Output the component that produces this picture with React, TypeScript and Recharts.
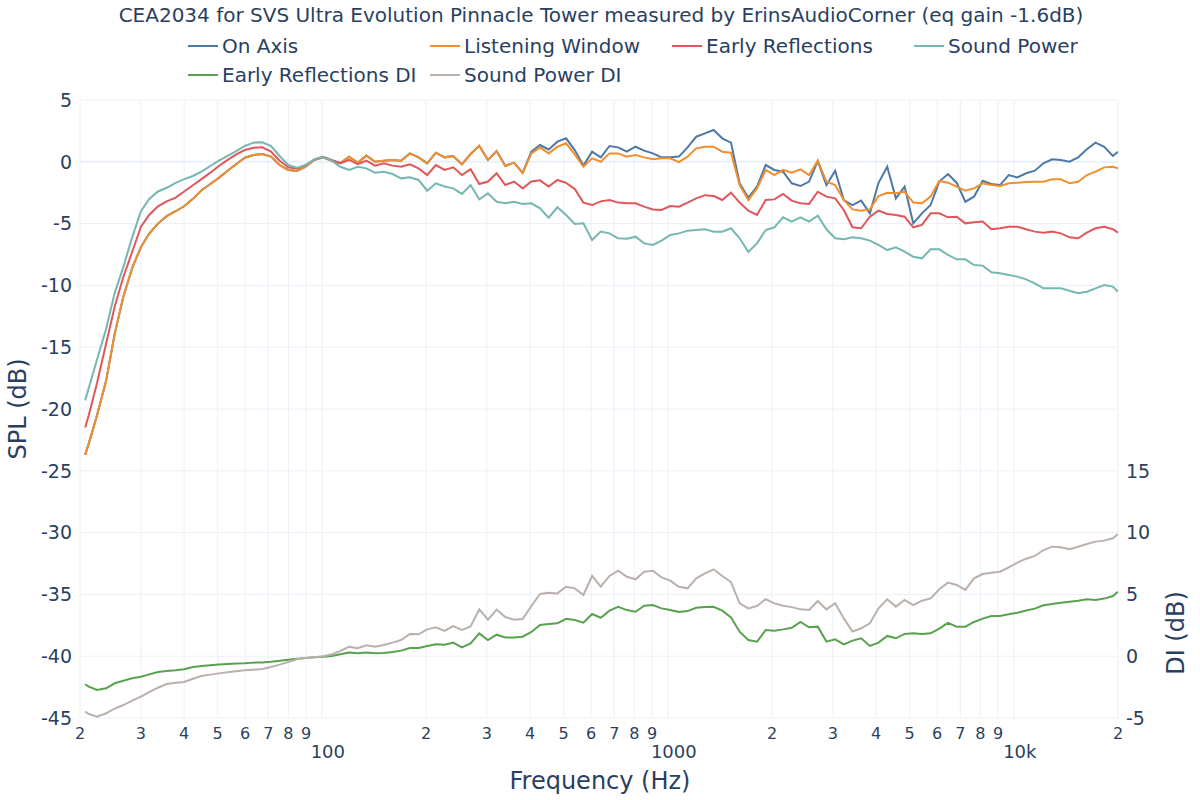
import { LineChart, Line, XAxis, YAxis, CartesianGrid, ReferenceLine } from 'recharts'

const FONT = '"DejaVu Sans", Verdana, sans-serif'
const INK = '#2a3f5f'
const GRID = '#ebf0f8'

// frequency grid (Hz), roughly 1/12 octave
const FREQ = [
  20.7, 21.2, 22.4, 23.8, 25.2, 26.7, 28.3, 30, 31.7, 33.6, 35.6, 37.8,
  40, 42.4, 44.9, 47.6, 50.4, 53.4, 56.6, 59.9, 63.5, 67.3, 71.3, 75.5,
  80, 84.8, 89.8, 95.1, 100.8, 106.8, 113.1, 119.9, 127, 134.5, 142.5, 151,
  160, 169.5, 179.6, 190.3, 201.6, 213.6, 226.3, 239.7, 254, 269.1, 285.1, 302,
  320, 339, 359.2, 380.6, 403.2, 427.2, 452.5, 479.5, 508, 538.2, 570.2, 604.1,
  640, 678.1, 718.4, 761.1, 806.4, 854.3, 905.1, 958.9, 1015.9, 1076.3, 1140.3, 1208.1,
  1280, 1356.1, 1436.7, 1522.2, 1612.7, 1708.6, 1810.2, 1917.9, 2031.9, 2152.7, 2280.7, 2416.3,
  2560, 2712.2, 2873.5, 3044.4, 3225.4, 3417.2, 3620.4, 3835.7, 4063.8, 4305.4, 4561.4, 4832.6,
  5120, 5424.5, 5746.9, 6088.7, 6450.8, 6834.4, 7240.8, 7671.4, 8127.6, 8610.9, 9122.9, 9665.4,
  10240, 10849, 11494, 12177, 12902, 13669, 14482, 15343, 16255, 17222, 18246, 19331,
  20000,
]

const ON_AXIS = [
  -23.7, -22.8, -20.5, -17.7, -13.9, -10.9, -8.6, -6.9, -5.8, -5.0, -4.4, -4.0,
  -3.6, -3.0, -2.3, -1.8, -1.3, -0.72, -0.18, 0.33, 0.55, 0.63, 0.42, -0.26,
  -0.66, -0.74, -0.4, 0.15, 0.36, 0.09, -0.1, 0.42, -0.07, 0.5, 0.0, 0.09,
  0.15, 0.09, 0.68, 0.36, -0.12, 0.74, 0.36, 0.47, -0.2, 0.63, 1.3, 0.15,
  0.87, -0.34, -0.07, -0.9, 0.82, 1.36, 1.0, 1.63, 1.9, 0.95, -0.3, 0.82,
  0.36, 1.28, 1.17, 0.82, 1.22, 0.9, 0.68, 0.36, 0.36, 0.42, 1.17, 2.03,
  2.3, 2.57, 1.9, 1.55, -1.74, -2.9, -2.0, -0.26, -0.66, -0.8, -1.74, -1.96,
  -1.6, 0.06, -1.9, -0.72, -3.1, -3.5, -3.14, -4.17, -1.7, -0.4, -2.96, -2.01,
  -4.98, -4.17, -3.5, -1.6, -0.99, -1.69, -3.23, -2.82, -1.53, -1.8, -1.88, -1.07,
  -1.26, -0.93, -0.72, -0.12, 0.2, 0.15, 0.01, 0.36, 1.01, 1.55, 1.22, 0.47,
  0.82,
]

const LISTENING = [
  -23.7, -22.8, -20.5, -17.7, -13.9, -10.9, -8.6, -6.9, -5.8, -5.0, -4.4, -4.0,
  -3.6, -3.0, -2.3, -1.8, -1.3, -0.72, -0.18, 0.33, 0.55, 0.63, 0.42, -0.26,
  -0.66, -0.74, -0.4, 0.15, 0.36, 0.09, -0.1, 0.42, -0.07, 0.5, 0.0, 0.09,
  0.15, 0.09, 0.68, 0.36, -0.12, 0.74, 0.36, 0.47, -0.2, 0.63, 1.3, 0.15,
  0.87, -0.34, -0.07, -0.9, 0.68, 1.17, 0.68, 1.22, 1.5, 0.6, -0.4, 0.28,
  0.0, 0.68, 0.68, 0.42, 0.55, 0.36, 0.2, 0.28, 0.28, -0.02, 0.42, 1.09,
  1.22, 1.22, 0.82, 0.74, -1.88, -3.1, -2.15, -0.66, -1.07, -0.66, -0.88, -0.61,
  -1.07, 0.09, -1.61, -1.88, -3.09, -3.85, -3.95, -3.85, -2.77, -2.5, -2.55, -2.42,
  -3.3, -3.36, -2.82, -1.55, -1.69, -2.01, -2.34, -2.15, -1.74, -1.88, -1.96, -1.74,
  -1.69, -1.63, -1.61, -1.61, -1.42, -1.42, -1.74, -1.61, -1.07, -0.8, -0.45, -0.4,
  -0.53,
]

const EARLY_REFL = [
  -21.5, -20.5, -17.9, -14.7, -11.7, -9.3, -7.3, -5.25, -4.3, -3.6, -3.2, -2.9,
  -2.4, -1.9, -1.4, -0.88, -0.34, 0.15, 0.6, 0.95, 1.14, 1.17, 0.82, 0.09,
  -0.45, -0.55, -0.26, 0.2, 0.4, 0.15, -0.12, 0.15, -0.2, 0.1, -0.31, -0.12,
  -0.31, -0.4, -0.2, -0.53, -1.07, -0.26, -0.66, -0.45, -1.07, -0.6, -1.8, -1.6,
  -0.93, -1.88, -1.6, -2.15, -1.6, -1.5, -2.0, -1.47, -1.7, -2.2, -3.3, -3.5,
  -3.2, -3.09, -3.3, -3.36, -3.36, -3.63, -3.85, -3.9, -3.58, -3.63, -3.3, -2.96,
  -2.7, -2.77, -3.09, -2.5, -3.3, -3.95, -4.3, -3.09, -3.04, -2.6, -3.14, -3.36,
  -3.41, -2.42, -2.82, -2.96, -3.9, -5.3, -5.38, -4.44, -3.95, -4.22, -4.3, -4.44,
  -5.3, -5.11, -4.17, -4.17, -4.49, -4.44, -4.98, -4.9, -4.84, -5.46, -5.38, -5.25,
  -5.25, -5.46, -5.65, -5.73, -5.65, -5.79, -6.11, -6.19, -5.73, -5.38, -5.25, -5.46,
  -5.73,
]

const SOUND_POWER = [
  -19.3, -18.3, -16.0, -13.5, -10.6, -8.5, -6.1, -4.0, -3.0, -2.4, -2.1, -1.7,
  -1.4, -1.15, -0.8, -0.34, 0.09, 0.47, 0.87, 1.28, 1.55, 1.58, 1.28, 0.47,
  -0.26, -0.47, -0.26, 0.2, 0.4, 0.1, -0.4, -0.66, -0.4, -0.53, -0.88, -0.8,
  -0.99, -1.34, -1.26, -1.47, -2.34, -1.74, -2.0, -2.15, -2.6, -1.88, -3.04, -2.55,
  -3.23, -3.36, -3.23, -3.41, -3.36, -3.77, -4.52, -3.68, -4.3, -5.03, -4.98, -6.33,
  -5.65, -5.79, -6.19, -6.22, -6.06, -6.6, -6.73, -6.38, -5.92, -5.79, -5.57, -5.52,
  -5.46, -5.65, -5.65, -5.38, -6.19, -7.3, -6.6, -5.52, -5.3, -4.49, -4.84, -4.49,
  -4.84, -4.36, -5.46, -6.19, -6.27, -6.11, -6.19, -6.38, -6.73, -7.14, -6.92, -7.27,
  -7.68, -7.81, -7.08, -7.08, -7.54, -7.89, -7.89, -8.35, -8.4, -8.94, -9.02, -9.16,
  -9.29, -9.51, -9.83, -10.24, -10.24, -10.24, -10.43, -10.64, -10.51, -10.24, -9.97, -10.1,
  -10.51,
]

const ER_DI = [
  -2.27, -2.46, -2.73, -2.6, -2.19, -1.98, -1.79, -1.66, -1.47, -1.28, -1.2, -1.14,
  -1.06, -0.87, -0.79, -0.74, -0.68, -0.63, -0.6, -0.58, -0.52, -0.5, -0.44, -0.36,
  -0.28, -0.2, -0.15, -0.09, -0.04, 0.02, 0.15, 0.29, 0.23, 0.29, 0.23, 0.26,
  0.34, 0.45, 0.66, 0.66, 0.83, 0.96, 0.93, 1.1, 0.72, 1.04, 1.85, 1.31,
  1.74, 1.52, 1.52, 1.58, 1.96, 2.52, 2.6, 2.66, 3.03, 2.93, 2.71, 3.41,
  3.11, 3.68, 4.0, 3.73, 3.6, 4.09, 4.14, 3.87, 3.73, 3.57, 3.65, 3.92,
  3.98, 4.0, 3.68, 3.14, 1.98, 1.31, 1.17, 2.12, 2.06, 2.17, 2.3, 2.78,
  2.34, 2.39, 1.18, 1.37, 0.96, 1.26, 1.45, 0.83, 1.1, 1.64, 1.45, 1.8,
  1.85, 1.8, 1.85, 2.23, 2.69, 2.39, 2.39, 2.77, 3.04, 3.25, 3.25, 3.39,
  3.52, 3.69, 3.85, 4.12, 4.22, 4.33, 4.41, 4.49, 4.6, 4.55, 4.66, 4.87,
  5.22,
]

const SP_DI = [
  -4.49, -4.68, -4.89, -4.62, -4.24, -3.95, -3.6, -3.27, -2.9, -2.55, -2.25, -2.14,
  -2.09, -1.82, -1.6, -1.49, -1.39, -1.3, -1.22, -1.14, -1.09, -1.03, -0.87, -0.68,
  -0.47, -0.25, -0.15, -0.09, -0.01, 0.15, 0.42, 0.77, 0.64, 0.88, 0.77, 0.91,
  1.1, 1.31, 1.8, 1.77, 2.17, 2.34, 2.04, 2.44, 2.12, 2.4, 3.8, 2.95,
  3.77, 3.17, 2.95, 3.0, 4.06, 5.03, 5.14, 5.08, 5.62, 5.49, 4.95, 6.49,
  5.62, 6.49, 6.92, 6.43, 6.22, 6.84, 6.92, 6.38, 6.11, 5.62, 5.49, 6.3,
  6.7, 7.03, 6.49, 6.0, 4.27, 3.87, 4.06, 4.62, 4.27, 4.09, 3.97, 3.79,
  3.74, 4.47, 3.79, 4.28, 3.06, 1.99, 2.26, 2.66, 3.87, 4.6, 4.01, 4.55,
  4.14, 4.49, 4.68, 5.41, 5.95, 5.76, 5.36, 6.3, 6.65, 6.76, 6.84, 7.19,
  7.57, 7.89, 8.11, 8.59, 8.86, 8.81, 8.65, 8.86, 9.08, 9.27, 9.35, 9.54,
  9.89,
]

const X_TICKS = [
  20, 30, 40, 50, 60, 70, 80, 90, 100,
  200, 300, 400, 500, 600, 700, 800, 900, 1000,
  2000, 3000, 4000, 5000, 6000, 7000, 8000, 9000, 10000, 20000,
]
const SPL_TICKS = [-45, -40, -35, -30, -25, -20, -15, -10, -5, 0, 5]
const DI_TICKS = [-5, 0, 5, 10, 15]
const DECADES: Record<number, string> = { 100: '100', 1000: '1000', 10000: '10k' }

const SERIES = [
  { key: 'onAxis', name: 'On Axis', color: '#4e79a7', axis: 'spl' },
  { key: 'lw', name: 'Listening Window', color: '#f28e2b', axis: 'spl' },
  { key: 'er', name: 'Early Reflections', color: '#e15759', axis: 'spl' },
  { key: 'sp', name: 'Sound Power', color: '#76b7b2', axis: 'spl' },
  { key: 'erdi', name: 'Early Reflections DI', color: '#59a14f', axis: 'di' },
  { key: 'spdi', name: 'Sound Power DI', color: '#bab0ac', axis: 'di' },
]

const rows = FREQ.map((f, i) => ({
  f,
  onAxis: ON_AXIS[i],
  lw: LISTENING[i],
  er: EARLY_REFL[i],
  sp: SOUND_POWER[i],
  erdi: ER_DI[i],
  spdi: SP_DI[i],
}))

function XTick({ x, y, payload }: any) {
  const v = payload.value
  const dec = DECADES[v]
  if (dec) {
    return (
      <text x={x + 6} y={y + 40} textAnchor="middle" fontSize={18} fill={INK} fontFamily={FONT}>
        {dec}
      </text>
    )
  }
  return (
    <text x={x} y={y + 21} textAnchor="middle" fontSize={16} fill={INK} fontFamily={FONT}>
      {String(v)[0]}
    </text>
  )
}

// legend slots: 4 columns, 2 rows
const legendPos = (i: number) => ({ x: 188 + (i % 4) * 242, y: i < 4 ? 46 : 75 })

export default function App() {
  return (
    <div style={{ position: 'absolute', left: 0, top: 0, width: 1200, height: 800, background: '#fff', fontFamily: FONT }}>
      <LineChart width={1200} height={800} data={rows} margin={{ top: 100, right: 22, bottom: 22, left: 20 }}>
        <CartesianGrid stroke={GRID} strokeWidth={1} yAxisId="spl" />
        <XAxis
          dataKey="f"
          type="number"
          scale="log"
          domain={[20, 20000]}
          ticks={X_TICKS}
          interval={0}
          allowDataOverflow
          axisLine={false}
          tickLine={false}
          tickSize={0}
          tickMargin={0}
          height={60}
          tick={<XTick />}
        />
        <YAxis
          yAxisId="spl"
          domain={[-45, 5]}
          ticks={SPL_TICKS}
          interval={0}
          width={60}
          axisLine={false}
          tickLine={false}
          tick={{ fontSize: 19, fill: INK, fontFamily: FONT }}
        />
        <YAxis
          yAxisId="di"
          orientation="right"
          domain={[-5, 45]}
          ticks={DI_TICKS}
          interval={0}
          width={60}
          axisLine={false}
          tickLine={false}
          tick={{ fontSize: 19, fill: INK, fontFamily: FONT }}
        />
        <ReferenceLine yAxisId="spl" y={0} stroke={GRID} strokeWidth={2} />
        {SERIES.map(s => (
          <Line
            key={s.key}
            yAxisId={s.axis}
            dataKey={s.key}
            name={s.name}
            stroke={s.color}
            strokeWidth={2}
            dot={false}
            type="linear"
            isAnimationActive={false}
          />
        ))}
      </LineChart>
      <svg width={1200} height={800} style={{ position: 'absolute', left: 0, top: 0, pointerEvents: 'none' }}>
        <text x={601} y={22} textAnchor="middle" fontSize={20} fill={INK} fontFamily={FONT}>
          CEA2034 for SVS Ultra Evolution Pinnacle Tower measured by ErinsAudioCorner (eq gain -1.6dB)
        </text>
        {SERIES.map((s, i) => {
          const p = legendPos(i)
          return (
            <g key={s.key}>
              <line x1={p.x} x2={p.x + 30} y1={p.y} y2={p.y} stroke={s.color} strokeWidth={2} />
              <text x={p.x + 34} y={p.y + 7} fontSize={20} fill={INK} fontFamily={FONT}>{s.name}</text>
            </g>
          )
        })}
        <text x={600} y={789} textAnchor="middle" fontSize={24} fill={INK} fontFamily={FONT}>Frequency (Hz)</text>
        <text transform="translate(26,409) rotate(-90)" textAnchor="middle" fontSize={24} fill={INK} fontFamily={FONT}>SPL (dB)</text>
        <text transform="translate(1184,633) rotate(-90)" textAnchor="middle" fontSize={24} fill={INK} fontFamily={FONT}>DI (dB)</text>
      </svg>
    </div>
  )
}
